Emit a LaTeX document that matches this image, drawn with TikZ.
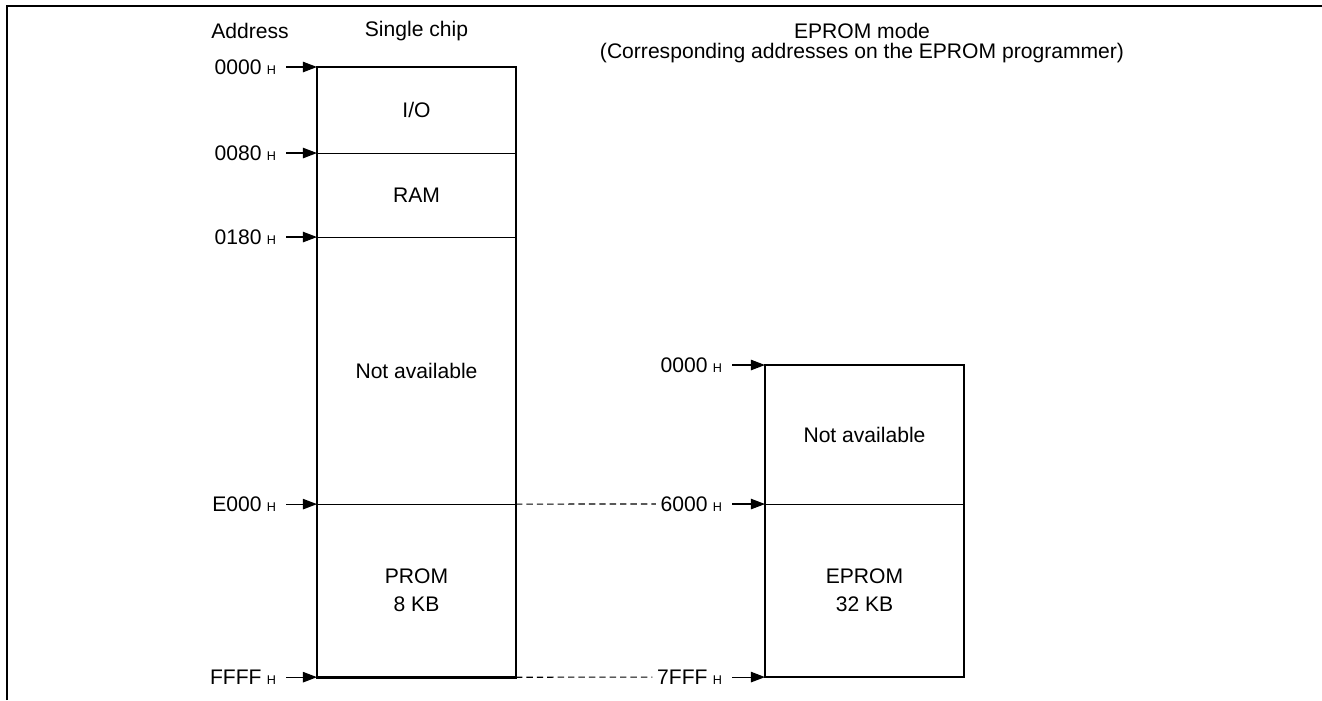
\documentclass[tikz,border=0pt]{standalone}
\usepackage{fontspec}
\setmainfont{Liberation Sans}
\usepackage{tikz}
\usetikzlibrary{positioning,arrows.meta,calc}
\newcommand{\hexaddr}[1]{#1\hspace{0.25em}{\fontsize{9}{10}\selectfont H}}
\tikzset{
  region/.style={draw, line width=0.75pt, minimum width=4.975cm, inner sep=0pt, outer sep=0pt, align=center},
  chipframe/.style={line width=1.9pt},
  addr/.style={inner sep=0pt, outer sep=0pt},
  addrarrow/.style={-{Triangle[length=0.35cm, width=0.26cm]}, line width=0.8pt},
  linkdash/.style={dash pattern=on 0.16cm off 0.1cm, line width=0.85pt, shorten >=0.12cm},
  pageedge/.style={line width=1.2pt},
  heading/.style={align=center, font=\fontsize{15}{14.2}\selectfont}
}

\begin{document}
\begin{tikzpicture}[x=0.025cm, y=-0.025cm, every node/.style={font=\fontsize{15}{20}\selectfont}]
      \useasboundingbox (0,0) rectangle (1322,700);
      \draw[pageedge] (7,700) -- (7,6) -- (1322,6);
      % single chip map
      \node[region, minimum height=2.15cm, anchor=north] (io) at (416.5,67) {I/O};
      \node[region, minimum height=2.1cm, below=0pt of io] (ram) {RAM};
      \node[region, minimum height=6.675cm, below=0pt of ram] (na) {\raisebox{-0.3cm}{Not available}};
      \node[region, minimum height=4.325cm, below=0pt of na] (prom) {PROM\\8 KB};
      \draw[chipframe] (io.north west) rectangle (prom.south east);
      % EPROM mode map
      \node[region, minimum height=3.475cm, anchor=north] (epna) at (864.5,365) {Not available};
      \node[region, minimum height=4.325cm, below=0pt of epna] (eprom) {EPROM\\32 KB};
      \draw[chipframe] (epna.north west) rectangle (eprom.south east);
      % headings
      \node (addrhead) at (250,31) {Address};
      \node (chiphead) at (416.5,31) {Single chip};
      \node[heading] (eprhead) at (862,43) {EPROM mode\\(Corresponding addresses on the EPROM programmer)};
      % addresses
      \node[addr, left=1.025cm of io.north west] (a0000) {\hexaddr{0000}};
      \node[addr, left=1.025cm of io.south west] (a0080) {\hexaddr{0080}};
      \node[addr, left=1.025cm of ram.south west] (a0180) {\hexaddr{0180}};
      \node[addr, left=1.025cm of na.south west] (ae000) {\hexaddr{E000}};
      \node[addr, left=1.025cm of prom.south west] (affff) {\hexaddr{FFFF}};
      \node[addr, left=1.075cm of epna.north west] (b0000) {\hexaddr{0000}};
      \node[addr, left=1.075cm of epna.south west] (b6000) {\hexaddr{6000}};
      \node[addr, left=1.075cm of eprom.south west] (b7fff) {\hexaddr{7FFF}};
      \foreach \a/\b in {a0000/io.north west, a0080/io.south west, a0180/ram.south west,
                         ae000/na.south west, affff/prom.south west, b0000/epna.north west,
                         b6000/epna.south west, b7fff/eprom.south west}
        \draw[addrarrow] ([xshift=0.26cm]\a.east) -- (\b);
      \draw[linkdash] (prom.north east) -- (b6000.west);
      \draw[linkdash] (prom.south east) -- (b7fff.west);
    \end{tikzpicture}
\end{document}
